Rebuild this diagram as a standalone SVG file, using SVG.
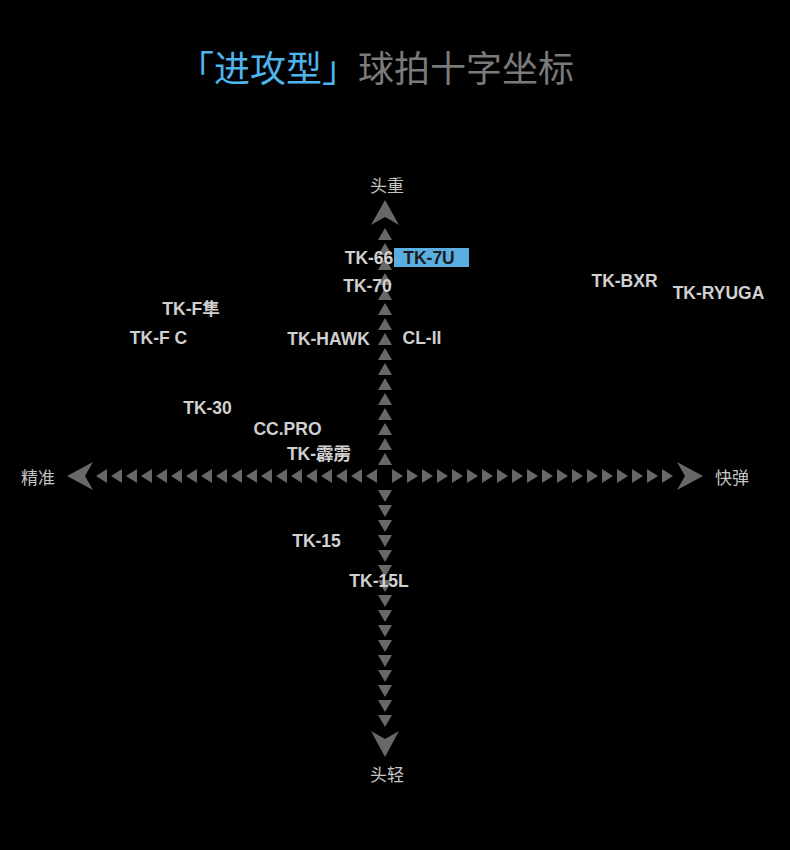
<svg xmlns="http://www.w3.org/2000/svg" xmlns:xlink="http://www.w3.org/1999/xlink" width="790" height="850" viewBox="0 0 790 850">
<style>
.lbl{font-family:"Liberation Sans","Noto Sans CJK SC",Arial,sans-serif;font-weight:bold;font-size:17.5px;fill:#d0d0d0;text-anchor:middle}
.ax{font-family:"Noto Sans CJK SC",sans-serif;font-size:17px;fill:#c4c4c4;text-anchor:middle}
.tri{fill:#686868}
</style>
<defs>
<path id="tu" d="M0,0 L7,12 L-7,12 Z"/>
<path id="td" d="M0,12 L7,0 L-7,0 Z"/>
<path id="tl" d="M0,0 L11,-7 L11,7 Z"/>
<path id="tr" d="M0,0 L-11,-7 L-11,7 Z"/>
</defs>
<rect width="790" height="850" fill="#000"/>
<g id="title">
<text x="376" y="82" font-family="Noto Sans CJK SC, sans-serif" font-size="36" text-anchor="middle"><tspan fill="#4db4ec">「进攻型」</tspan><tspan fill="#7a7a7a">球拍十字坐标</tspan></text>
</g>
<g id="connectors" class="tri">
<path d="M385,200 L399,225 L385,217 L371,225 Z"/>
<path d="M385,757 L399,731 L385,739 L371,731 Z"/>
<path d="M67,476 L93,462 L85,476 L93,490 Z"/>
<path d="M703,476 L677,462 L685,476 L677,490 Z"/>
<use href="#tu" x="385" y="453"/><use href="#tu" x="385" y="438"/><use href="#tu" x="385" y="423"/><use href="#tu" x="385" y="408"/>
<use href="#tu" x="385" y="393"/><use href="#tu" x="385" y="378"/><use href="#tu" x="385" y="363"/><use href="#tu" x="385" y="348"/>
<use href="#tu" x="385" y="333"/><use href="#tu" x="385" y="318"/><use href="#tu" x="385" y="303"/><use href="#tu" x="385" y="288"/>
<use href="#tu" x="385" y="273"/><use href="#tu" x="385" y="258"/><use href="#tu" x="385" y="243"/><use href="#tu" x="385" y="228"/>
<use href="#td" x="385" y="490"/><use href="#td" x="385" y="505"/><use href="#td" x="385" y="520"/><use href="#td" x="385" y="535"/>
<use href="#td" x="385" y="550"/><use href="#td" x="385" y="565"/><use href="#td" x="385" y="580"/><use href="#td" x="385" y="595"/>
<use href="#td" x="385" y="610"/><use href="#td" x="385" y="625"/><use href="#td" x="385" y="640"/><use href="#td" x="385" y="655"/>
<use href="#td" x="385" y="670"/><use href="#td" x="385" y="685"/><use href="#td" x="385" y="700"/><use href="#td" x="385" y="715"/>
<use href="#tl" x="366" y="476"/><use href="#tl" x="351" y="476"/><use href="#tl" x="336" y="476"/><use href="#tl" x="321" y="476"/>
<use href="#tl" x="306" y="476"/><use href="#tl" x="291" y="476"/><use href="#tl" x="276" y="476"/><use href="#tl" x="261" y="476"/>
<use href="#tl" x="246" y="476"/><use href="#tl" x="231" y="476"/><use href="#tl" x="216" y="476"/><use href="#tl" x="201" y="476"/>
<use href="#tl" x="186" y="476"/><use href="#tl" x="171" y="476"/><use href="#tl" x="156" y="476"/><use href="#tl" x="141" y="476"/>
<use href="#tl" x="126" y="476"/><use href="#tl" x="111" y="476"/><use href="#tl" x="96" y="476"/>
<use href="#tr" x="403" y="476"/><use href="#tr" x="418" y="476"/><use href="#tr" x="433" y="476"/><use href="#tr" x="448" y="476"/>
<use href="#tr" x="463" y="476"/><use href="#tr" x="478" y="476"/><use href="#tr" x="493" y="476"/><use href="#tr" x="508" y="476"/>
<use href="#tr" x="523" y="476"/><use href="#tr" x="538" y="476"/><use href="#tr" x="553" y="476"/><use href="#tr" x="568" y="476"/>
<use href="#tr" x="583" y="476"/><use href="#tr" x="598" y="476"/><use href="#tr" x="613" y="476"/><use href="#tr" x="628" y="476"/>
<use href="#tr" x="643" y="476"/><use href="#tr" x="658" y="476"/><use href="#tr" x="673" y="476"/>
</g>
<g id="axis-labels">
<text class="ax" x="387" y="192">头重</text>
<text class="ax" x="387" y="781">头轻</text>
<text class="ax" x="38" y="484">精准</text>
<text class="ax" x="732" y="484">快弹</text>
</g>
<g id="n-tk66"><text class="lbl" x="369" y="264">TK-66</text></g>
<g id="n-tk7u"><rect x="394" y="248" width="75" height="19" fill="#5aaee2"/><text class="lbl" x="429" y="264" style="fill:#1c1c1c">TK-7U</text></g>
<g id="n-tk70"><text class="lbl" x="367.5" y="292">TK-70</text></g>
<g id="n-tkbxr"><text class="lbl" x="624.5" y="287">TK-BXR</text></g>
<g id="n-tkryuga"><text class="lbl" x="718.5" y="299">TK-RYUGA</text></g>
<g id="n-tkf-sun"><text class="lbl" x="191" y="315">TK-F隼</text></g>
<g id="n-tkfc"><text class="lbl" x="158.5" y="344">TK-F C</text></g>
<g id="n-tkhawk"><text class="lbl" x="328.5" y="345">TK-HAWK</text></g>
<g id="n-cl2"><text class="lbl" x="422" y="344">CL-II</text></g>
<g id="n-tk30"><text class="lbl" x="207.5" y="414">TK-30</text></g>
<g id="n-ccpro"><text class="lbl" x="287.5" y="435">CC.PRO</text></g>
<g id="n-tkpili"><text class="lbl" x="319" y="460">TK-霹雳</text></g>
<g id="n-tk15"><text class="lbl" x="316.5" y="547">TK-15</text></g>
<g id="n-tk15l"><text class="lbl" x="379" y="587">TK-15L</text></g>
</svg>
